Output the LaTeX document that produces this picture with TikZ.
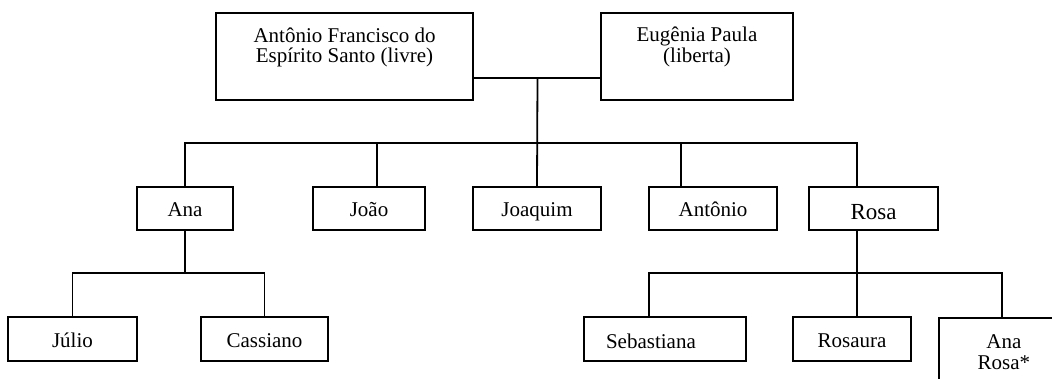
\documentclass[tikz,border=0pt]{standalone}
\usepackage{fontspec}
\setmainfont{Liberation Serif}
\usepackage{tikz}

\begin{document}
\begin{tikzpicture}[x=1pt, y=-1pt, line width=1.8pt,
  caixa/.style={draw, rectangle, inner sep=0pt, font=\fontsize{21}{21}\selectfont},
  nome/.style={caixa, minimum height=43, text height=16.5pt, text depth=0pt},
  rotulo/.style={align=center, inner sep=0pt, label distance=0pt, font=\fontsize{21}{20.5}\selectfont}]
\useasboundingbox (0,0) rectangle (1052,378);
\clip (0,0) rectangle (1052,378);
% casal
\node[caixa, minimum width=257, minimum height=87, label={[rotulo, yshift=9pt]center:Antônio Francisco do\\Espírito Santo (livre)}] (pai) at (344.5,56.5) {};
\node[caixa, minimum width=192, minimum height=87, label={[rotulo, yshift=9.4pt]center:Eugênia Paula\\(liberta)}] (mae) at (697,56.5) {};
% filhos
\node[nome, minimum width=96] (ana) at (185,208.5) {Ana};
\node[nome, minimum width=112] (joao) at (369,208.5) {João};
\node[nome, minimum width=128] (joaquim) at (537,208.5) {Joaquim};
\node[nome, minimum width=128] (antonio) at (713,208.5) {Antônio};
\node[nome, minimum width=129, font=\fontsize{23}{23}\selectfont, text height=21pt] (rosa) at (873.5,208.5) {Rosa};
% netos
\node[nome, minimum width=129, minimum height=44] (julio) at (72.5,339) {Júlio};
\node[nome, minimum width=127, minimum height=44] (cassiano) at (264.5,339) {Cassiano};
\node[caixa, minimum width=162, minimum height=44, label={[rotulo, anchor=west, xshift=22pt, yshift=-2pt]west:Sebastiana}] (sebastiana) at (665,339) {};
\node[nome, minimum width=118, minimum height=44] (rosaura) at (852,339) {Rosaura};
\node[caixa, minimum width=130, minimum height=69, anchor=north west, align=center] (anarosa) at (938,317) {Ana\\Rosa*};

\coordinate (casal) at (537.5,78);
\coordinate (f2) at (377,143);
\coordinate (f4) at (681,143);
\coordinate (f5) at (857,143);
\coordinate (g1) at (185,273);
\coordinate (r1) at (649,273);
\coordinate (r2) at (857,273);
\coordinate (r3) at (1002,273);

\draw (pai.east |- casal) -- (mae.west |- casal);
\draw (casal) -- (joaquim.north);
\draw (ana.north) |- (f5) -- (f5 |- rosa.north);
\foreach \c/\n in {f2/joao, f4/antonio}
  \draw (\c) -- (\c |- \n.north);
\draw (ana.south) -- (g1);
\draw (julio.north) |- (g1) -| (cassiano.north);
\draw (r2 |- rosa.south) -- (r2) -- (r2 |- rosaura.north);
\draw (r1 |- sebastiana.north) -- (r1) -- (r3) -- (r3 |- anarosa.north);
\end{tikzpicture}
\end{document}
